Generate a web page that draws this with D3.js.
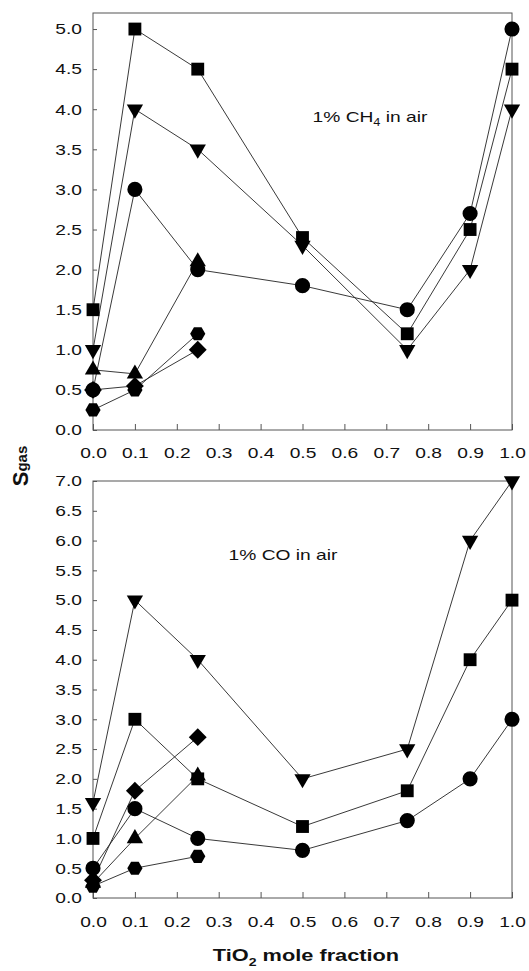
<!DOCTYPE html>
<html>
<head>
<meta charset="utf-8">
<script src="https://cdn.jsdelivr.net/npm/d3@7"></script>
<style>
body { margin: 0; background: #fff; }
</style>
</head>
<body>
<div id="chart"></div>
<script>
// x positions (TiO2 mole fraction)
var xFull = [0, 0.1, 0.25, 0.5, 0.75, 0.9, 1.0];
var xShort = [0, 0.1, 0.25];
var xTicks = [0, 0.1, 0.2, 0.3, 0.4, 0.5, 0.6, 0.7, 0.8, 0.9, 1.0];

// 1% CH4 in air
var ch4YTicks = [0, 0.5, 1, 1.5, 2, 2.5, 3, 3.5, 4, 4.5, 5];
var ch4Square = [1.5, 5.0, 4.5, 2.4, 1.2, 2.5, 4.5];
var ch4TriDown = [1.0, 4.0, 3.5, 2.3, 1.0, 2.0, 4.0];
var ch4Circle = [0.5, 3.0, 2.0, 1.8, 1.5, 2.7, 5.0];
var ch4TriUp = [0.75, 0.7, 2.1];
var ch4Diamond = [0.5, 0.55, 1.0];
var ch4Hexagon = [0.25, 0.5, 1.2];

// 1% CO in air
var coYTicks = [0, 0.5, 1, 1.5, 2, 2.5, 3, 3.5, 4, 4.5, 5, 5.5, 6, 6.5, 7];
var coTriDown = [1.6, 5.0, 4.0, 2.0, 2.5, 6.0, 7.0];
var coSquare = [1.0, 3.0, 2.0, 1.2, 1.8, 4.0, 5.0];
var coCircle = [0.5, 1.5, 1.0, 0.8, 1.3, 2.0, 3.0];
var coTriUp = [0.25, 1.0, 2.05];
var coDiamond = [0.3, 1.8, 2.7];
var coHexagon = [0.2, 0.5, 0.7];

var W = 529, H = 971;
var FONT = "'Liberation Sans', Arial, sans-serif";
var SX = 1.28; // the scanned figure is stretched sideways

var svg = d3.select("#chart").append("svg")
    .attr("width", W)
    .attr("height", H)
    .style("font-family", FONT);

var x = d3.scaleLinear().domain([0, 1]).range([93, 512]);

// hexagon is not one of d3's symbols
var symbolHexagon = {
  draw: function(ctx, size) {
    var r = Math.sqrt(size * 2 / (3 * Math.sqrt(3)));
    for (var i = 0; i < 6; i++) {
      var a = Math.PI / 3 * i;
      if (i) ctx.lineTo(r * Math.cos(a), r * Math.sin(a));
      else ctx.moveTo(r * Math.cos(a), r * Math.sin(a));
    }
    ctx.closePath();
  }
};

var shapes = {
  square:  {type: d3.symbolSquare, size: 165, rot: 0},
  circle:  {type: d3.symbolCircle, size: 180, rot: 0},
  triUp:   {type: d3.symbolTriangle, size: 115, rot: 0},
  triDown: {type: d3.symbolTriangle, size: 115, rot: 180},
  diamond: {type: d3.symbolSquare, size: 160, rot: 45},
  hexagon: {type: symbolHexagon, size: 150, rot: 0}
};

var panels = [
  {
    yMax: 5.2, top: 13, bottom: 430, yTicks: ch4YTicks, xPad: 17,
    series: [
      {xs: xShort, ys: ch4TriUp, shape: "triUp"},
      {xs: xFull, ys: ch4Circle, shape: "circle"},
      {xs: xFull, ys: ch4Square, shape: "square"},
      {xs: xFull, ys: ch4TriDown, shape: "triDown"},
      {xs: xShort, ys: ch4Diamond, shape: "diamond"},
      {xs: xShort, ys: ch4Hexagon, shape: "hexagon"}
    ],
    note: {x: 370, y: 122, parts: ["1% CH", "4", " in air"]}
  },
  {
    yMax: 7.0, top: 481, bottom: 898, yTicks: coYTicks, xPad: 18,
    series: [
      {xs: xShort, ys: coTriUp, shape: "triUp"},
      {xs: xFull, ys: coCircle, shape: "circle"},
      {xs: xFull, ys: coSquare, shape: "square"},
      {xs: xFull, ys: coTriDown, shape: "triDown"},
      {xs: xShort, ys: coDiamond, shape: "diamond"},
      {xs: xShort, ys: coHexagon, shape: "hexagon"}
    ],
    note: {x: 283, y: 560, parts: ["1% CO in air"]}
  }
];

panels.forEach(function(p) {
  var y = d3.scaleLinear().domain([0, p.yMax]).range([p.bottom, p.top]);
  var g = svg.append("g");

  // frame
  g.append("rect")
      .attr("x", x(0)).attr("y", p.top)
      .attr("width", x(1) - x(0)).attr("height", p.bottom - p.top)
      .attr("fill", "none").attr("stroke", "#555").attr("stroke-width", 1);

  // y axis, ticks pointing in
  var gy = g.append("g")
      .attr("transform", "translate(" + x(0) + ",0)")
      .call(d3.axisLeft(y).tickValues(p.yTicks).tickFormat(d3.format(".1f"))
        .tickSize(-4).tickSizeOuter(0).tickPadding(0));
  gy.select(".domain").remove();
  gy.selectAll("line").attr("stroke", "#555");
  gy.selectAll("text")
      .attr("x", -11 / SX)
      .attr("transform", "scale(" + SX + ",1)")
      .attr("fill", "#111")
      .style("font-size", "15px").style("font-family", FONT);

  // x axis
  var gx = g.append("g")
      .attr("transform", "translate(0," + p.bottom + ")")
      .call(d3.axisBottom(x).tickValues(xTicks).tickFormat(d3.format(".1f"))
        .tickSize(-6).tickSizeOuter(0).tickPadding(p.xPad));
  gx.select(".domain").remove();
  gx.selectAll("line").attr("stroke", "#555");
  gx.selectAll("text")
      .attr("transform", "scale(" + SX + ",1)")
      .attr("fill", "#111")
      .style("font-size", "15px").style("font-family", FONT);

  var line = d3.line()
      .x(function(d) { return x(d[0]); })
      .y(function(d) { return y(d[1]); });

  // lines first, then the markers on top
  p.series.forEach(function(s) {
    g.append("path")
        .datum(d3.zip(s.xs, s.ys))
        .attr("d", line)
        .attr("fill", "none")
        .attr("stroke", "#222")
        .attr("stroke-width", 0.9);
  });

  p.series.forEach(function(s) {
    var sh = shapes[s.shape];
    g.selectAll(null)
        .data(d3.zip(s.xs, s.ys))
        .enter().append("path")
        .attr("d", d3.symbol().type(sh.type).size(sh.size))
        .attr("transform", function(d) {
          return "translate(" + x(d[0]) + "," + y(d[1]) + ") rotate(" + sh.rot + ")";
        })
        .attr("fill", "#000");
  });

  // label inside the panel
  var t = g.append("text")
      .attr("transform", "translate(" + p.note.x + "," + p.note.y + ") scale(" + SX + ",1)")
      .attr("text-anchor", "middle")
      .attr("fill", "#111")
      .style("font-size", "15px");
  t.append("tspan").text(p.note.parts[0]);
  if (p.note.parts.length > 1) {
    t.append("tspan").attr("dy", 4).style("font-size", "10px").text(p.note.parts[1]);
    t.append("tspan").attr("dy", -4).text(p.note.parts[2]);
  }
});

// y title
var yt = svg.append("text")
    .attr("transform", "translate(28,466) rotate(-90)")
    .attr("text-anchor", "middle")
    .attr("font-weight", "bold")
    .attr("fill", "#111");
yt.append("tspan").style("font-size", "22px").text("S");
yt.append("tspan").attr("dy", -1).style("font-size", "15px").text("gas");

// x title
var xt = svg.append("text")
    .attr("transform", "translate(306,961) scale(" + SX + ",1)")
    .attr("text-anchor", "middle")
    .attr("font-weight", "bold")
    .attr("fill", "#111")
    .style("font-size", "17px");
xt.append("tspan").text("TiO");
xt.append("tspan").attr("dy", 5).style("font-size", "11px").text("2");
xt.append("tspan").attr("dy", -5).text(" mole fraction");
</script>
</body>
</html>
